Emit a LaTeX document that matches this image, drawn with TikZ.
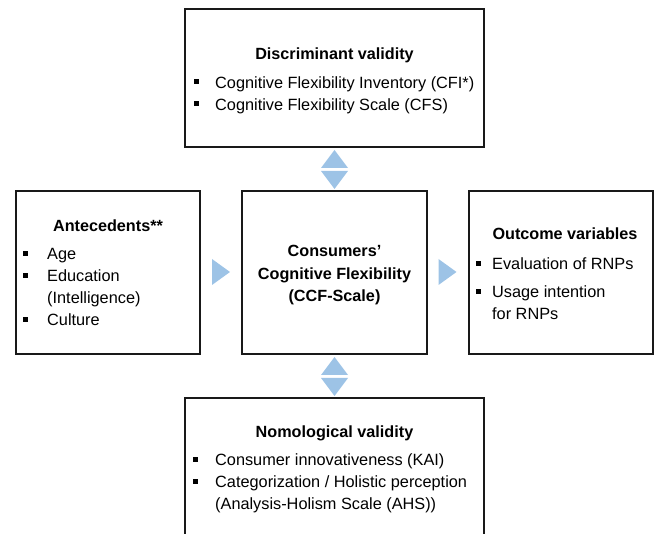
\documentclass[tikz,border=0pt]{standalone}
\usepackage{fontspec}
\setmainfont{Liberation Sans}
\definecolor{arrowBlue}{RGB}{157,195,230}
\newcommand{\sqb}{\rule[4pt]{5.2pt}{5.2pt}}
\newcommand{\blist}[2]{\begin{tabular}[t]{@{}p{#1}@{}l@{}}#2\end{tabular}}

\begin{document}
\begin{tikzpicture}[x=1pt,y=-1pt,
    box/.style={draw=black!90,line width=1.8pt,inner sep=0pt},
    txt/.style={inner sep=0pt,font=\fontsize{16.3}{22}\selectfont},
    head/.style={txt,font=\fontsize{16.2}{22.5}\selectfont\bfseries,anchor=base},
    lst/.style={txt,anchor=base west},
    tri/.style={fill=arrowBlue,draw=none},
  ]
    \useasboundingbox (0,0) rectangle (654,534);

    \node[box,minimum width=299pt,minimum height=138pt] (disc) at (334.5,78)    {};
    \node[box,minimum width=184pt,minimum height=163pt] (ante) at (108,272.5)   {};
    \node[box,minimum width=185pt,minimum height=163pt] (ccf)  at (334.5,272.5) {};
    \node[box,minimum width=184pt,minimum height=163pt] (outc) at (561,272.5)   {};
    \node[box,minimum width=299pt,minimum height=162pt] (nomo) at (334.5,479)   {};

    % headings
    \node[head] (discT) at (334.5,59.3)  {Discriminant validity};
    \node[head] (anteT) at (108,231.7)   {Antecedents**};
    \node[head] (ccfT)  at (334.5,256.7)
      {\begin{tabular}[t]{@{}c@{}}Consumers’\\Cognitive Flexibility\\(CCF-Scale)\end{tabular}};
    \node[head] (outcT) at (565,240)     {Outcome variables};
    \node[head] (nomoT) at (334.5,437.3) {Nomological validity};

    % bullet lists
    \node[lst] (discL) at (193.5,88.3) {\blist{21.5pt}{%
      \sqb & Cognitive Flexibility Inventory (CFI*)\\
      \sqb & Cognitive Flexibility Scale (CFS)}};
    \node[lst] (anteL) at (22.5,260) {\blist{24.5pt}{%
      \sqb & Age\\
      \sqb & Education\\
           & (Intelligence)\\
      \sqb & Culture}};
    \node[lst] (outcL) at (475.5,270) {\blist{16.5pt}{%
      \sqb & Evaluation of RNPs\\[6pt]
      \sqb & Usage intention\\
           & for RNPs}};
    \node[lst] (nomoL) at (192.5,466) {\blist{22.5pt}{%
      \sqb & Consumer innovativeness (KAI)\\
      \sqb & Categorization / Holistic perception\\
           & (Analysis-Holism Scale (AHS))}};

    % arrows between the boxes
    \fill[tri] (212,259) -- (230,272) -- (212,285) -- cycle;
    \fill[tri] (438.5,259) -- (456.5,272) -- (438.5,285) -- cycle;
    \foreach \y in {150,357} {
      \fill[tri] (321,\y+18) -- (334.5,\y) -- (348,\y+18) -- cycle;
      \fill[tri] (321,\y+21) -- (334.5,\y+39) -- (348,\y+21) -- cycle;
    }

\end{tikzpicture}
\end{document}
